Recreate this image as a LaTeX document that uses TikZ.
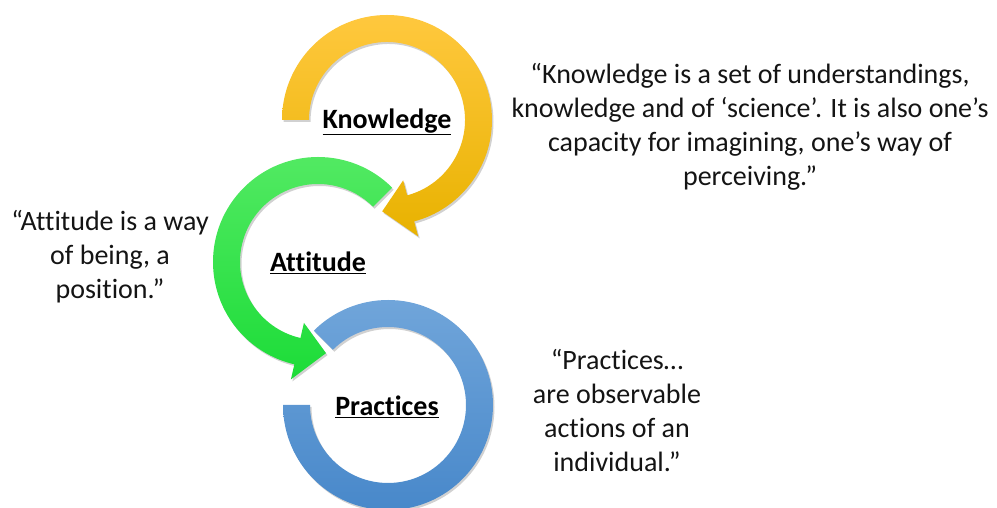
\documentclass[tikz,border=0pt]{standalone}
\usepackage{fontspec}
\setmainfont[Ligatures=NoCommon]{Carlito}

\definecolor{goldtop}{RGB}{255,200,62}
\definecolor{goldbot}{RGB}{232,178,0}
\definecolor{greentop}{RGB}{84,234,100}
\definecolor{greenbot}{RGB}{28,220,56}
\definecolor{bluetop}{RGB}{112,165,218}
\definecolor{bluebot}{RGB}{72,136,202}

\begin{document}
\begin{tikzpicture}[x=1pt,y=1pt,
 saying/.style={align=center,font=\fontsize{28}{34}\selectfont,text=black!92},
 ringtitle/.style={font=\fontsize{28}{34}\selectfont\bfseries},
 drop/.style={fill=black,opacity=.18,shift={(1.5,-2)}},
 goldring/.style={top color=goldtop,bottom color=goldbot},
 greenring/.style={top color=greentop,bottom color=greenbot},
 bluering/.style={top color=bluetop,bottom color=bluebot}]
\useasboundingbox (0,0) rectangle (997,508);

% knowledge ring, clockwise from the left end
\begin{scope}[shift={(387,388)}]
\foreach \s in {drop,goldring}
 \path[\s] (180:105) arc[start angle=180,end angle=-75,radius=105] -- (-75:120.5)
  -- (-93:91.5) -- (-75:62.5) -- (-75:78) arc[start angle=-75,end angle=180,radius=78] -- cycle;
\node[ringtitle] (know) at (0,-2) {\underline{Knowledge}};
\end{scope}

% attitude ring, counter-clockwise down to the practices ring
\begin{scope}[shift={(318,246)}]
\foreach \s in {drop,greenring}
 \path[\s] (45:105) arc[start angle=45,end angle=257,radius=105] -- (257:120.5)
  -- (275:91.5) -- (257:62.5) -- (257:78) arc[start angle=257,end angle=45,radius=78] -- cycle;
\node[ringtitle] (att) at (0,-1) {\underline{Attitude}};
\end{scope}

% practices ring, open at the top left
\begin{scope}[shift={(388,103)}]
\foreach \s in {drop,bluering}
 \path[\s] (180:105) arc[start angle=180,end angle=495,radius=105] -- (135:78)
  arc[start angle=495,end angle=180,radius=78] -- cycle;
\node[ringtitle] (prac) at (-1,-2) {\underline{Practices}};
\end{scope}

\node[saying] (knowq) at (750,381) {“Knowledge is a set of understandings,\\knowledge and of ‘science’. It is also one’s\\capacity for imagining, one’s way of\\perceiving.”};
\node[saying] (attq) at (110,251) {“Attitude is a way\\of being, a\\position.”};
\node[saying] (pracq) at (617,97) {“Practices…\\are observable\\actions of an\\individual.”};
\end{tikzpicture}
\end{document}
